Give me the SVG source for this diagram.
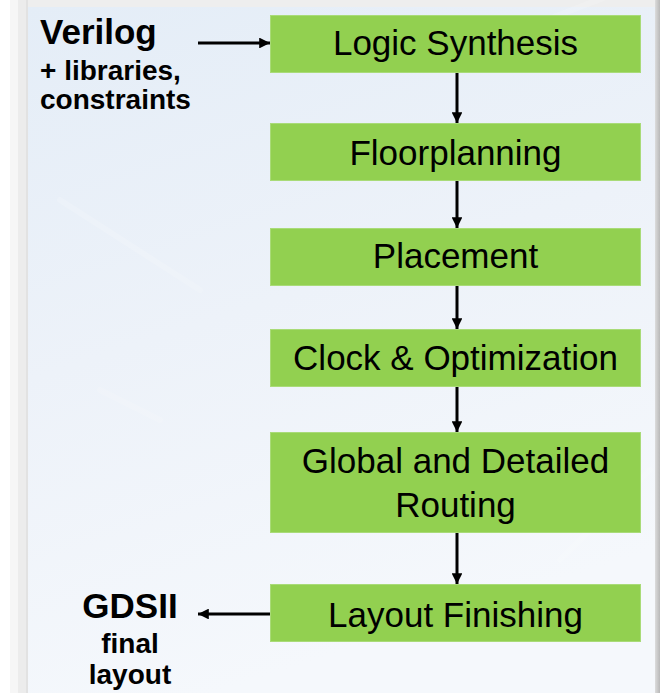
<svg xmlns="http://www.w3.org/2000/svg" width="660" height="693" viewBox="0 0 660 693">
  <defs>
    <linearGradient id="panel" x1="0" y1="0" x2="0.3" y2="1">
      <stop offset="0" stop-color="#e4edf7"/>
      <stop offset="0.5" stop-color="#edf2f9"/>
      <stop offset="1" stop-color="#f5f8fc"/>
    </linearGradient>
    <linearGradient id="rightEdge" x1="0" y1="0" x2="1" y2="0">
      <stop offset="0" stop-color="#dcdcdc"/>
      <stop offset="1" stop-color="#b8b8b8"/>
    </linearGradient>
    <marker id="ah" viewBox="0 0 10 10" refX="10" refY="5" markerWidth="3.6" markerHeight="3.6" orient="auto" markerUnits="strokeWidth">
      <path d="M0,0 L10,5 L0,10 Z" fill="#000"/>
    </marker>
    <style>
      .box { fill: #92d050; stroke: #a9db78; stroke-width: 1; }
      .bt { font-family: "Liberation Sans", Arial, sans-serif; font-size: 35px; fill: #000; text-anchor: middle; }
      .lbl { font-family: "Liberation Sans", Arial, sans-serif; font-weight: bold; fill: #000; }
      .conn line { stroke: #000; stroke-width: 3; marker-end: url(#ah); }
    </style>
  </defs>

  <!-- background frame -->
  <rect x="0" y="0" width="660" height="693" fill="#ffffff"/>
  <rect x="10" y="0" width="8" height="693" fill="#f6f6f6"/>
  <rect x="18" y="0" width="8" height="693" fill="#ececec"/>
  <rect x="26" y="0" width="2" height="693" fill="#e2e2e2"/>
  <rect x="28" y="0" width="632" height="7" fill="#eeeeee"/>
  <rect x="28" y="7" width="628" height="686" fill="url(#panel)"/>
  <rect x="655" y="0" width="5" height="693" fill="url(#rightEdge)"/>
  <g opacity="0.15" stroke="#ffffff" stroke-width="6" stroke-linecap="round">
    <line x1="60" y1="200" x2="200" y2="290"/>
    <line x1="100" y1="390" x2="160" y2="420"/>
    <line x1="520" y1="30" x2="650" y2="-20"/>
    <line x1="560" y1="560" x2="650" y2="470"/>
  </g>

  <!-- nodes -->
  <g id="logic-synthesis">
    <rect class="box" x="270.5" y="15.5" width="370" height="57"/>
    <text class="bt" x="455.5" y="55">Logic Synthesis</text>
  </g>
  <g id="floorplanning">
    <rect class="box" x="270.5" y="123.5" width="370" height="57"/>
    <text class="bt" x="455.5" y="165">Floorplanning</text>
  </g>
  <g id="placement">
    <rect class="box" x="270.5" y="228.5" width="370" height="57"/>
    <text class="bt" x="455.5" y="268">Placement</text>
  </g>
  <g id="clock-optimization">
    <rect class="box" x="270.5" y="329.5" width="370" height="57"/>
    <text class="bt" x="455.5" y="370">Clock &amp; Optimization</text>
  </g>
  <g id="routing">
    <rect class="box" x="270.5" y="432.5" width="370" height="100"/>
    <text class="bt" x="455.5" y="473">Global and Detailed</text>
    <text class="bt" x="455.5" y="517">Routing</text>
  </g>
  <g id="layout-finishing">
    <rect class="box" x="270.5" y="584.5" width="370" height="57"/>
    <text class="bt" x="455.5" y="627">Layout Finishing</text>
  </g>
  <g id="verilog-input">
    <text class="lbl" x="40" y="44" font-size="35">Verilog</text>
    <text class="lbl" x="40" y="80" font-size="28">+ libraries,</text>
    <text class="lbl" x="40" y="109" font-size="28">constraints</text>
  </g>
  <g id="gdsii-output">
    <text class="lbl" x="130" y="618" font-size="35" text-anchor="middle">GDSII</text>
    <text class="lbl" x="130" y="653" font-size="28" text-anchor="middle">final</text>
    <text class="lbl" x="130" y="684" font-size="28" text-anchor="middle">layout</text>
  </g>

  <!-- connectors -->
  <g class="conn">
    <line x1="198" y1="43" x2="270" y2="43"/>
    <line x1="457" y1="73" x2="457" y2="123"/>
    <line x1="457" y1="181" x2="457" y2="228"/>
    <line x1="457" y1="286" x2="457" y2="329"/>
    <line x1="457" y1="387" x2="457" y2="432"/>
    <line x1="457" y1="533" x2="457" y2="584"/>
    <line x1="270" y1="614" x2="198" y2="614"/>
  </g>
</svg>
